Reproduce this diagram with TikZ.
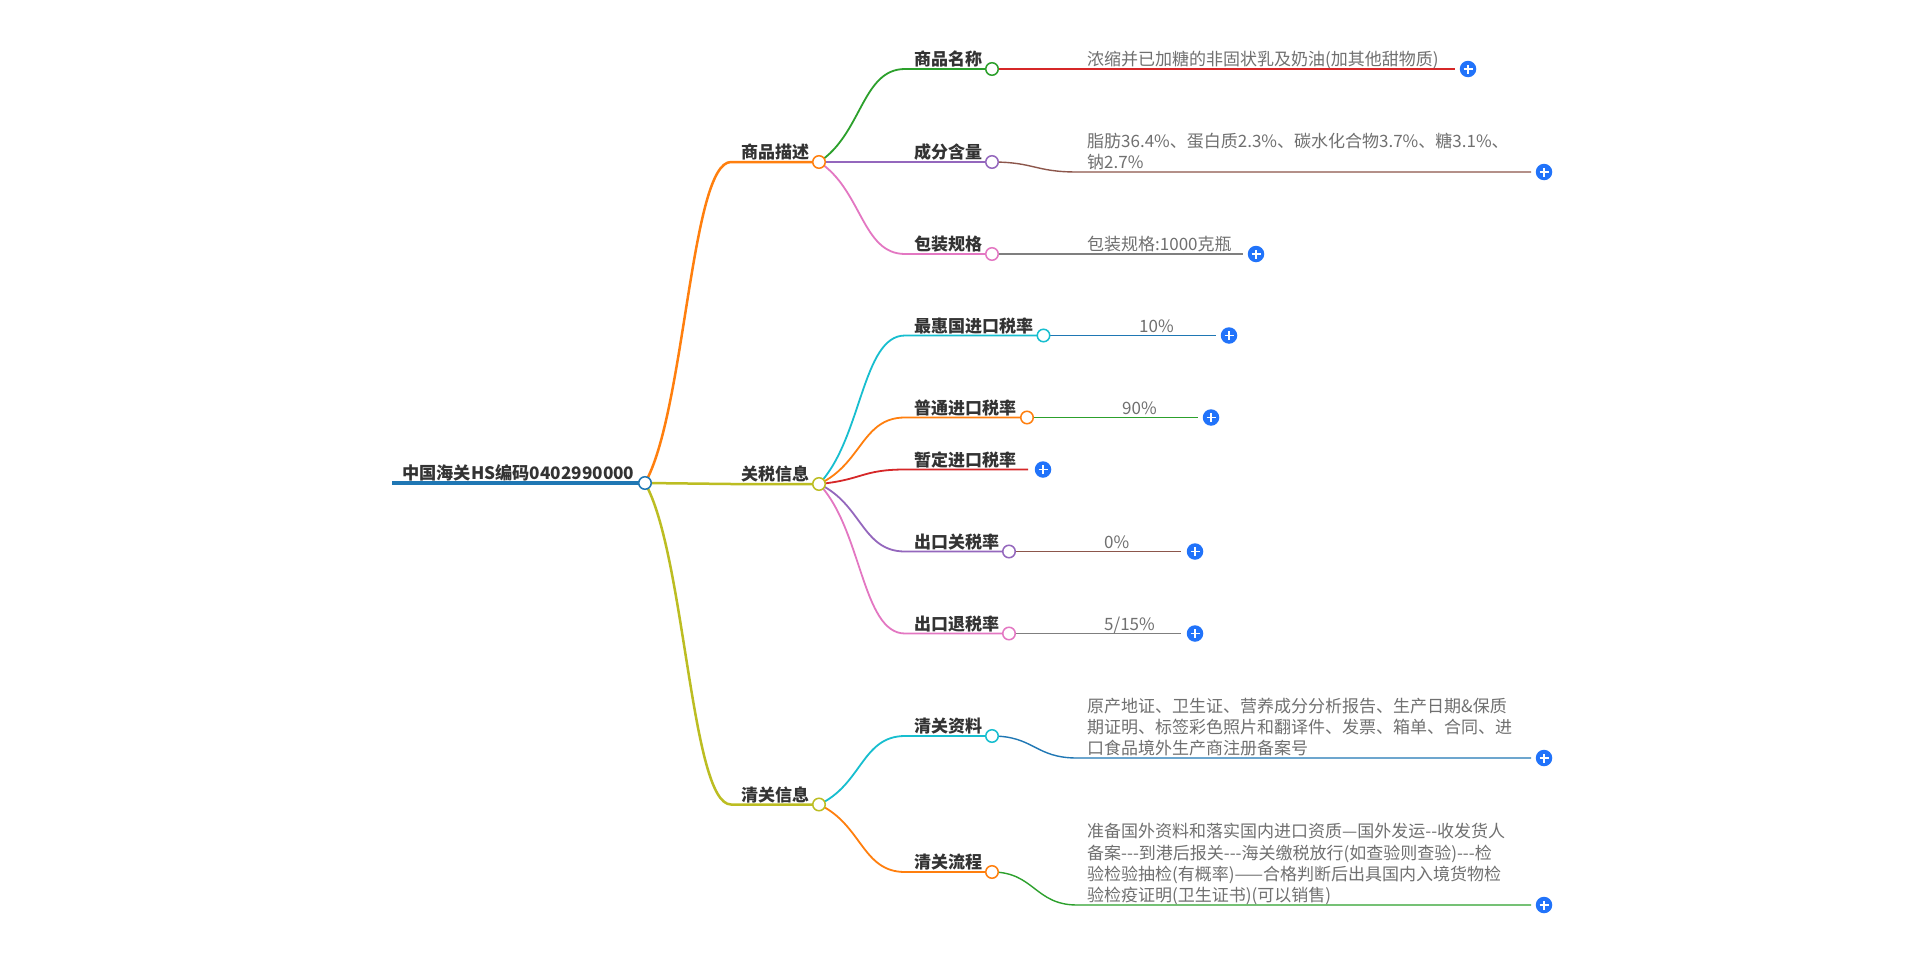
\documentclass[tikz,border=0pt]{standalone}
\usepackage{fontspec}
\setmainfont{Noto Sans CJK SC}
\usetikzlibrary{backgrounds}
\definecolor{cBlue}{HTML}{1F77B4}
\definecolor{cOrange}{HTML}{FF7F0E}
\definecolor{cGreen}{HTML}{2CA02C}
\definecolor{cRed}{HTML}{D62728}
\definecolor{cPurple}{HTML}{9467BD}
\definecolor{cBrown}{HTML}{8C564B}
\definecolor{cPink}{HTML}{E377C2}
\definecolor{cGray}{HTML}{7F7F7F}
\definecolor{cOlive}{HTML}{BCBD22}
\definecolor{cCyan}{HTML}{17BECF}
\definecolor{cBtn}{HTML}{2173FA}
\definecolor{cText}{HTML}{333333}
\definecolor{cLeaf}{HTML}{707070}
\newcommand{\hy}{\mbox{-}}

\begin{document}
\begin{tikzpicture}[x=1pt, y=-1pt,
  knob/.style={circle, draw=#1, fill=white, line width=1.5pt, minimum size=12.5pt, inner sep=0pt},
  plusbtn/.style={circle, fill=cBtn, minimum size=16.5pt, inner sep=0pt,
    path picture={\draw[white, line width=1.8pt]
      ([xshift=-4.5pt]path picture bounding box.center) -- ([xshift=4.5pt]path picture bounding box.center)
      ([yshift=-4.5pt]path picture bounding box.center) -- ([yshift=4.5pt]path picture bounding box.center);}},
  lbl/.style={anchor=base west, inner sep=0pt, text=cText, font=\fontsize{17}{21}\selectfont\bfseries},
  leaf/.style={anchor=base west, inner sep=0pt, align=left, text=cLeaf, font=\fontsize{17}{21.2}\selectfont},
  l1/.style={line width=2.5pt, #1},
  l2/.style={line width=1.8pt, #1},
  l3/.style={line width=1.4pt, #1}]
\useasboundingbox (0,0) rectangle (1920,953);

% root
\coordinate (root-l) at (392,483);
\node[knob=cBlue] (root) at (645,483) {};
\node[lbl, font=\fontsize{17.2}{21}\selectfont\bfseries] (root-t) at (402,479) {中国海关HS编码0402990000};

% first level
\coordinate (desc-s) at (731,162);
\node[knob=cOrange] (desc) at (819,162) {};
\node[lbl] (desc-t) at (741,158.5) {商品描述};
\coordinate (tax-s) at (731,484);
\node[knob=cOlive] (tax) at (819,484) {};
\node[lbl] (tax-t) at (741,480.5) {关税信息};
\coordinate (clr-s) at (731,804.5);
\node[knob=cOlive] (clr) at (819,804.5) {};
\node[lbl] (clr-t) at (741,801) {清关信息};

% second level
\coordinate (name-s) at (905,69);
\node[knob=cGreen] (name) at (992,69) {};
\node[lbl] (name-t) at (914,65.5) {商品名称};
\node[knob=cPurple] (comp) at (992,162) {};
\node[lbl] (comp-t) at (914,158.5) {成分含量};
\coordinate (pack-s) at (905,254);
\node[knob=cPink] (pack) at (992,254) {};
\node[lbl] (pack-t) at (914,250.5) {包装规格};
\coordinate (mfn-s) at (905,335.5);
\node[knob=cCyan] (mfn) at (1043.5,335.5) {};
\node[lbl] (mfn-t) at (914,332) {最惠国进口税率};
\coordinate (gen-s) at (905,417.5);
\node[knob=cOrange] (gen) at (1027,417.5) {};
\node[lbl] (gen-t) at (914,414) {普通进口税率};
\coordinate (prov-s) at (905,469.5);
\coordinate (prov-e) at (1028,469.5);
\node[lbl] (prov-t) at (914,466) {暂定进口税率};
\coordinate (exp-s) at (905,551.5);
\node[knob=cPurple] (exp) at (1009,551.5) {};
\node[lbl] (exp-t) at (914,548) {出口关税率};
\coordinate (reb-s) at (905,633.5);
\node[knob=cPink] (reb) at (1009,633.5) {};
\node[lbl] (reb-t) at (914,630) {出口退税率};
\coordinate (docs-s) at (905,736);
\node[knob=cCyan] (docs) at (992,736) {};
\node[lbl] (docs-t) at (914,732.5) {清关资料};
\coordinate (proc-s) at (905,872);
\node[knob=cOrange] (proc) at (992,872) {};
\node[lbl] (proc-t) at (914,868.5) {清关流程};

% leaves (base = last line)
\coordinate (name-e) at (1455,69);
\node[leaf] (name-v) at (1087,65.5) {浓缩并已加糖的非固状乳及奶油(加其他甜物质)};
\coordinate (comp-m) at (1077,172);
\coordinate (comp-e) at (1531,172);
\node[leaf] (comp-v) at (1087,168.5) {脂肪36.4\%、蛋白质2.3\%、碳水化合物3.7\%、糖3.1\%、\\钠2.7\%};
\coordinate (pack-e) at (1243,254);
\node[leaf] (pack-v) at (1087,250.5) {包装规格:1000克瓶};
\coordinate (mfn-e) at (1216,335.5);
\node[leaf] (mfn-v) at (1139,332) {10\%};
\coordinate (gen-e) at (1198,417.5);
\node[leaf] (gen-v) at (1122,414) {90\%};
\coordinate (exp-e) at (1181,551.5);
\node[leaf] (exp-v) at (1104,548) {0\%};
\coordinate (reb-e) at (1181,633.5);
\node[leaf] (reb-v) at (1104,630) {5/15\%};
\coordinate (docs-m) at (1077,758);
\coordinate (docs-e) at (1531,758);
\node[leaf] (docs-v) at (1087,754.5) {原产地证、卫生证、营养成分分析报告、生产日期\&保质\\期证明、标签彩色照片和翻译件、发票、箱单、合同、进\\口食品境外生产商注册备案号};
\coordinate (proc-m) at (1077,905);
\coordinate (proc-e) at (1531,905);
\node[leaf] (proc-v) at (1087,901.5) {准备国外资料和落实国内进口资质—国外发运\hy\hy 收发货人\\备案\hy\hy\hy 到港后报关\hy\hy\hy 海关缴税放行(如查验则查验)\hy\hy\hy 检\\验检验抽检(有概率)——合格判断后出具国内入境货物检\\验检疫证明(卫生证书)(可以销售)};

% buttons
\node[plusbtn] (name-p) at (1468,69) {};
\node[plusbtn] (comp-p) at (1544,172) {};
\node[plusbtn] (pack-p) at (1256,254) {};
\node[plusbtn] (mfn-p) at (1229,335.5) {};
\node[plusbtn] (gen-p) at (1211,417.5) {};
\node[plusbtn] (prov-p) at (1043,469.5) {};
\node[plusbtn] (exp-p) at (1195,551.5) {};
\node[plusbtn] (reb-p) at (1195,633.5) {};
\node[plusbtn] (docs-p) at (1544,758) {};
\node[plusbtn] (proc-p) at (1544,905) {};

\begin{scope}[on background layer]
\fill[white] (0,0) rectangle (1920,953);
\draw[line width=4.5pt, cBlue] (root-l) -- (root.center);
\draw[l1=cOrange] (root.center) .. controls +(40,-70) and +(-40,0) .. (desc-s) -- (desc.center);
\draw[l1=cOlive] (root.center) -- (tax-s) -- (tax.center);
\draw[l1=cOlive] (root.center) .. controls +(40,70) and +(-40,0) .. (clr-s) -- (clr.center);
\draw[l2=cGreen] (desc.center) .. controls +(43,-28) and +(-43,0) .. (name-s) -- (name.center);
\draw[l2=cPurple] (desc.center) -- (comp.center);
\draw[l2=cPink] (desc.center) .. controls +(43,28) and +(-43,0) .. (pack-s) -- (pack.center);
\draw[l2=cCyan] (tax.center) .. controls +(43,-45) and +(-43,0) .. (mfn-s) -- (mfn.center);
\draw[l2=cOrange] (tax.center) .. controls +(43,-20) and +(-43,0) .. (gen-s) -- (gen.center);
\draw[l2=cRed] (tax.center) .. controls +(43,-4) and +(-43,0) .. (prov-s) -- (prov-e);
\draw[l2=cPurple] (tax.center) .. controls +(43,20) and +(-43,0) .. (exp-s) -- (exp.center);
\draw[l2=cPink] (tax.center) .. controls +(43,45) and +(-43,0) .. (reb-s) -- (reb.center);
\draw[l2=cCyan] (clr.center) .. controls +(43,-20) and +(-43,0) .. (docs-s) -- (docs.center);
\draw[l2=cOrange] (clr.center) .. controls +(43,20) and +(-43,0) .. (proc-s) -- (proc.center);
\draw[l3=cRed] (name.center) -- (name-e);
\draw[l3=cBrown] (comp.center) .. controls +(42,0) and +(-42,0) .. (comp-m) -- (comp-e);
\draw[l3=cGray] (pack.center) -- (pack-e);
\draw[l3=cBlue] (mfn.center) -- (mfn-e);
\draw[l3=cGreen] (gen.center) -- (gen-e);
\draw[l3=cBrown] (exp.center) -- (exp-e);
\draw[l3=cGray] (reb.center) -- (reb-e);
\draw[l3=cBlue] (docs.center) .. controls +(42,0) and +(-42,0) .. (docs-m) -- (docs-e);
\draw[l3=cGreen] (proc.center) .. controls +(42,0) and +(-42,0) .. (proc-m) -- (proc-e);
\end{scope}
\end{tikzpicture}
\end{document}
